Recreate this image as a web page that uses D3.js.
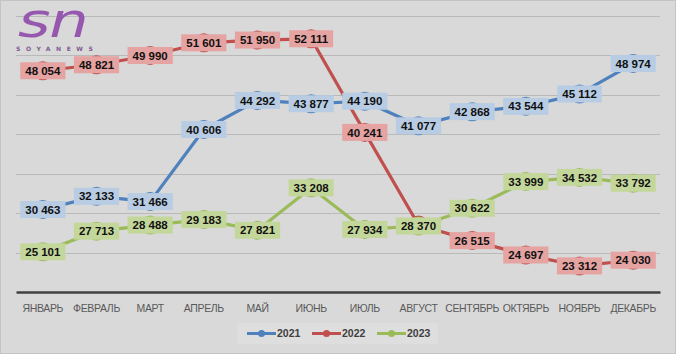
<!DOCTYPE html>
<html>
<head>
<meta charset="utf-8">
<script src="https://cdn.jsdelivr.net/npm/d3@7"></script>
<style>
  html, body { margin: 0; padding: 0; background: #d9d9d9; }
  svg { display: block; }
</style>
</head>
<body>
<script>
const months = ["ЯНВАРЬ", "ФЕВРАЛЬ", "МАРТ", "АПРЕЛЬ", "МАЙ", "ИЮНЬ", "ИЮЛЬ", "АВГУСТ", "СЕНТЯБРЬ", "ОКТЯБРЬ", "НОЯБРЬ", "ДЕКАБРЬ"];
const years = ["2021", "2022", "2023"];
const values2021 = [30463, 32133, 31466, 40606, 44292, 43877, 44190, 41077, 42868, 43544, 45112, 48974];
const values2022 = [48054, 48821, 49990, 51601, 51950, 52111, 40241, 28500, 26515, 24697, 23312, 24030];
const values2023 = [25101, 27713, 28488, 29183, 27821, 33208, 27934, 28370, 30622, 33999, 34532, 33792];
const yTicks = [20000, 25000, 30000, 35000, 40000, 45000, 50000, 55000];
// the 2022 august label sits under the 2023 one in the picture
const hiddenLabels = [["2022", "АВГУСТ"]];

const lineColor = ["#4f81bd", "#c0504d", "#9bbb59"];
const boxColor = ["#b8cce4", "#e5a3a1", "#c4d79b"];

const W = 676, H = 354;
const plot = { left: 16, right: 660, top: 16, bottom: 292 };

const series = [values2021, values2022, values2023].map((v, i) => ({
    year: years[i],
    color: lineColor[i],
    box: boxColor[i],
    points: v.map((d, j) => ({ month: months[j], value: d }))
}));

const svg = d3.select('body').append('svg')
    .attr('width', W)
    .attr('height', H);

svg.append('rect')
    .attr('x', 0.5).attr('y', 0.5)
    .attr('width', W - 1).attr('height', H - 1)
    .attr('fill', '#d9d9d9')
    .attr('stroke', '#c4c4c4');

const x = d3.scaleBand()
    .domain(months)
    .range([plot.left, plot.right]);

const y = d3.scaleLinear()
    .domain([20000, 55000])
    .range([plot.bottom, plot.top]);

// gridlines
svg.append('g')
   .selectAll('line')
   .data(yTicks.slice(1))
   .enter()
   .append('line')
   .attr('x1', plot.left).attr('x2', plot.right)
   .attr('y1', d => Math.round(y(d)) + 0.5)
   .attr('y2', d => Math.round(y(d)) + 0.5)
   .attr('stroke', '#b9b9b9')
   .attr('stroke-width', 1);

// x axis
const xAxis = svg.append('g')
    .attr('transform', 'translate(0,' + plot.bottom + ')')
    .call(d3.axisBottom(x).tickSize(0).tickPadding(13));
xAxis.select('.domain')
     .attr('stroke', '#404040')
     .attr('stroke-width', 2.5);
xAxis.selectAll('text')
     .attr('fill', '#595959')
     .style('font-family', '"Liberation Sans", Arial, sans-serif')
     .style('font-size', '10.5px')
     .style('letter-spacing', '-0.35px');

const line = d3.line()
    .x(d => x(d.month) + x.bandwidth() / 2)
    .y(d => y(d.value));

svg.append('g')
   .selectAll('path')
   .data(series)
   .enter()
   .append('path')
   .attr('d', d => line(d.points))
   .attr('fill', 'none')
   .attr('stroke', d => d.color)
   .attr('stroke-width', 3.2)
   .attr('stroke-linejoin', 'round');

// markers
series.forEach(s => {
    svg.append('g')
       .selectAll('circle')
       .data(s.points)
       .enter()
       .append('circle')
       .attr('cx', d => x(d.month) + x.bandwidth() / 2)
       .attr('cy', d => y(d.value))
       .attr('r', 9.5)
       .attr('fill', s.color);
});

// data labels
const fmt = v => d3.format(',')(v).replace(',', ' ');
series.forEach(s => {
    const g = svg.append('g')
        .selectAll('g')
        .data(s.points.filter(p => !hiddenLabels.some(h => h[0] === s.year && h[1] === p.month)))
        .enter()
        .append('g')
        .attr('transform', d => 'translate(' + (x(d.month) + x.bandwidth() / 2) + ',' + y(d.value) + ')');
    g.append('rect').attr('fill', s.box);
    const txt = g.append('text')
        .attr('text-anchor', 'middle')
        .attr('dy', '0.36em')
        .attr('fill', '#111')
        .style('font-family', '"Liberation Sans", Arial, sans-serif')
        .style('font-size', '11.5px')
        .style('font-weight', 'bold')
        .text(d => fmt(d.value));
    txt.each(function () {
        const w = this.getComputedTextLength();
        d3.select(this.parentNode).select('rect')
          .attr('x', -w / 2 - 5).attr('y', -8.5)
          .attr('width', w + 10).attr('height', 17);
    });
});

// legend
const legend = svg.append('g').attr('transform', 'translate(237,323)');
legend.append('rect')
      .attr('width', 201).attr('height', 21)
      .attr('fill', '#dedede');
const item = legend.selectAll('g')
    .data(series)
    .enter()
    .append('g')
    .attr('transform', (d, i) => 'translate(' + (10 + i * 65) + ',10.5)');
item.append('line')
    .attr('x1', 0).attr('x2', 29)
    .attr('stroke', d => d.color)
    .attr('stroke-width', 3);
item.append('circle')
    .attr('cx', 14.5).attr('r', 3.5)
    .attr('fill', d => d.color);
item.append('text')
    .attr('x', 30).attr('dy', '0.36em')
    .attr('fill', '#404040')
    .style('font-family', '"Liberation Sans", Arial, sans-serif')
    .style('font-size', '10.5px')
    .style('font-weight', 'bold')
    .text(d => d.year);

// logo
const logo = svg.append('g');
logo.append('text')
    .attr('transform', 'translate(18,37) scale(1.3,1)')
    .attr('fill', '#9658ae')
    .style('font-family', '"DejaVu Sans", sans-serif')
    .style('font-size', '48px')
    .style('font-style', 'italic')
    .style('letter-spacing', '-1px')
    .text('sn');
logo.append('text')
    .attr('x', 16).attr('y', 51)
    .attr('fill', '#7e5a92')
    .style('font-family', '"DejaVu Sans", sans-serif')
    .style('font-size', '6px')
    .style('font-weight', 'bold')
    .style('letter-spacing', '5.6px')
    .text('SOYANEWS');
</script>
</body>
</html>
